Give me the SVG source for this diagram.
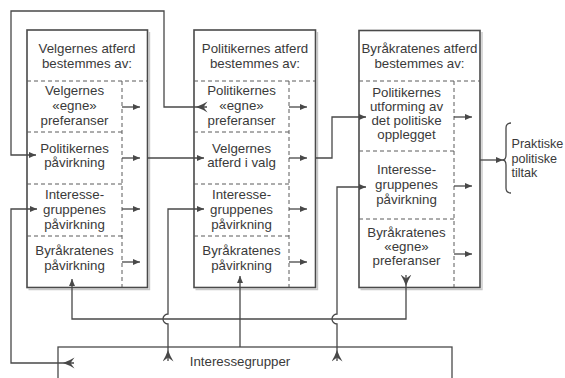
<svg xmlns="http://www.w3.org/2000/svg" width="565" height="378" viewBox="0 0 565 378">
<defs>
<style>
text{font-family:"Liberation Sans",Arial,sans-serif;font-size:13.3px;fill:#3a3a3a;text-anchor:middle}
.box{fill:#fff;stroke:#4a4a4a;stroke-width:1.6}
.shadow{fill:none;stroke:#c8c8c8;stroke-width:1.4}
.dash{fill:none;stroke:#5a5a5a;stroke-width:1;stroke-dasharray:4 3}
.ln{fill:none;stroke:#484848;stroke-width:1.3}
.arr{marker-end:url(#ah)}
.tl{marker-start:url(#tail)}
.lft{text-anchor:start;font-size:12.6px}
</style>
<marker id="ah" markerUnits="userSpaceOnUse" markerWidth="10" markerHeight="10" refX="7" refY="3" orient="auto">
<path d="M0,0 L7,3 L0,6 Z" fill="#484848"/>
</marker>
<marker id="tail" markerUnits="userSpaceOnUse" markerWidth="14" markerHeight="14" refX="0.5" refY="5.5" orient="auto">
<path d="M0,0 Q5,3.2 11.5,5.5 Q5,7.8 0,11 L4,5.5 Z" fill="#484848"/>
</marker>
</defs>
<rect width="565" height="378" fill="#fff"/>

<g id="node-velgere">
<path class="shadow" d="M149.5,32 V289.5 H28.5"/>
<rect class="box" x="27" y="30" width="120.5" height="257.5"/>
<line class="dash" x1="27" y1="81" x2="147" y2="81"/>
<line class="dash" x1="122" y1="81" x2="122" y2="287"/>
<line class="dash" x1="27" y1="132" x2="122" y2="132"/>
<line class="dash" x1="27" y1="184" x2="122" y2="184"/>
<line class="dash" x1="27" y1="236" x2="122" y2="236"/>
<text x="87" y="53">Velgernes atferd</text>
<text x="87" y="68">bestemmes av:</text>
<text x="74.5" y="95">Velgernes</text>
<text x="74.5" y="110">«egne»</text>
<text x="74.5" y="124.5">preferanser</text>
<text x="74.5" y="152.5">Politikernes</text>
<text x="74.5" y="167">påvirkning</text>
<text x="74.5" y="199">Interesse-</text>
<text x="74.5" y="214">gruppenes</text>
<text x="74.5" y="228.5">påvirkning</text>
<text x="74.5" y="255">Byråkratenes</text>
<text x="74.5" y="269.5">påvirkning</text>
</g>

<g id="node-politikere">
<path class="shadow" d="M317.5,32 V289.5 H195.5"/>
<rect class="box" x="194" y="30" width="121.5" height="257.5"/>
<line class="dash" x1="194" y1="81" x2="315" y2="81"/>
<line class="dash" x1="289" y1="81" x2="289" y2="287"/>
<line class="dash" x1="194" y1="132" x2="289" y2="132"/>
<line class="dash" x1="194" y1="184" x2="289" y2="184"/>
<line class="dash" x1="194" y1="236" x2="289" y2="236"/>
<text x="255" y="53">Politikernes atferd</text>
<text x="255" y="68">bestemmes av:</text>
<text x="241.5" y="95">Politikernes</text>
<text x="241.5" y="110">«egne»</text>
<text x="241.5" y="124.5">preferanser</text>
<text x="241.5" y="153">Velgernes</text>
<text x="241.5" y="167">atferd i valg</text>
<text x="241.5" y="199">Interesse-</text>
<text x="241.5" y="214">gruppenes</text>
<text x="241.5" y="228.5">påvirkning</text>
<text x="241.5" y="255">Byråkratenes</text>
<text x="241.5" y="269.5">påvirkning</text>
</g>

<g id="node-byrakrater">
<path class="shadow" d="M482,32 V289.5 H360.5"/>
<rect class="box" x="359" y="30.5" width="121" height="257"/>
<line class="dash" x1="359" y1="81" x2="480" y2="81"/>
<line class="dash" x1="454" y1="81" x2="454" y2="287"/>
<line class="dash" x1="359" y1="151" x2="454" y2="151"/>
<line class="dash" x1="359" y1="219" x2="454" y2="219"/>
<text x="419.5" y="53">Byråkratenes atferd</text>
<text x="419.5" y="68">bestemmes av:</text>
<text x="406.5" y="97">Politikernes</text>
<text x="406.5" y="111">utforming av</text>
<text x="406.5" y="125">det politiske</text>
<text x="406.5" y="139">opplegget</text>
<text x="406.5" y="174">Interesse-</text>
<text x="406.5" y="189">gruppenes</text>
<text x="406.5" y="203.5">påvirkning</text>
<text x="406.5" y="236.5">Byråkratenes</text>
<text x="406.5" y="251">«egne»</text>
<text x="406.5" y="265">preferanser</text>
</g>

<g id="node-interessegrupper">
<rect class="box" x="58" y="347" width="394" height="45" style="stroke-width:1.3"/>
<text x="240" y="366">Interessegrupper</text>
</g>

<g id="node-tiltak">
<path class="ln" d="M511,123 Q506,123 506,128 L506,155 Q506,160 502.5,160 Q506,160 506,165 L506,188 Q506,193 511,193"/>
<text class="lft" x="511.5" y="148">Praktiske</text>
<text class="lft" x="511.5" y="162.5">politiske</text>
<text class="lft" x="511.5" y="177">tiltak</text>
</g>

<g id="connectors">
<line class="ln arr" x1="122" y1="107" x2="140" y2="107"/>
<line class="ln arr" x1="122" y1="158" x2="140" y2="158"/>
<line class="ln arr" x1="122" y1="209" x2="140" y2="209"/>
<line class="ln arr" x1="122" y1="262" x2="140" y2="262"/>
<line class="ln arr" x1="289" y1="107" x2="307" y2="107"/>
<line class="ln arr" x1="289" y1="158" x2="307" y2="158"/>
<line class="ln arr" x1="289" y1="209" x2="307" y2="209"/>
<line class="ln arr" x1="289" y1="262" x2="307" y2="262"/>
<line class="ln arr" x1="454" y1="117" x2="472" y2="117"/>
<line class="ln arr" x1="454" y1="186" x2="472" y2="186"/>
<line class="ln arr" x1="454" y1="254" x2="472" y2="254"/>
<path class="ln arr tl" d="M207,107 L164,107 L164,11 L11,11 L11,155 L36,155"/>
<path class="ln arr" d="M147.5,158 L204,158"/>
<path class="ln arr tl" d="M74,363 L11,363 L11,209 L37,209"/>
<path class="ln arr tl" d="M168,361 L168,324 A5,5 0 0 1 168,314 L168,209 L204,209"/>
<path class="ln arr tl" d="M337,361 L337,324 A5,5 0 0 1 337,314 L337,187 L366,187"/>
<path class="ln arr" d="M315.5,158 L332,158 L332,117 L366,117"/>
<path class="ln arr tl" d="M406,275 L406,319 L72,319 L72,279"/>
<path class="ln arr" d="M240,347 L240,276"/>
<path class="ln arr" d="M480,160 L503,160"/>
</g>
</svg>
